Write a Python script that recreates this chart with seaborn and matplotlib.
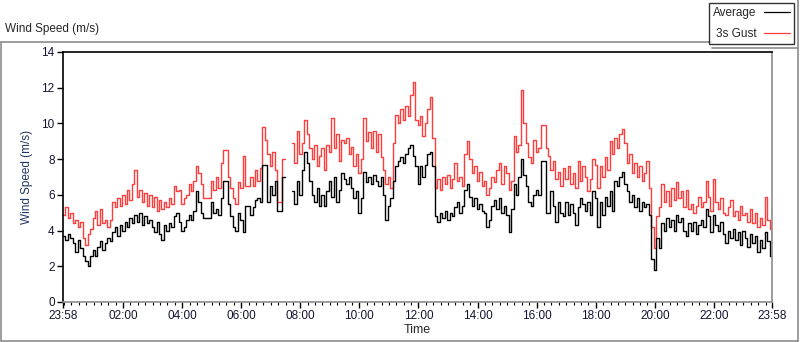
import numpy as np
import pandas as pd
import matplotlib
matplotlib.use("Agg")
from matplotlib import pyplot as plt
from matplotlib.lines import Line2D
import matplotlib.dates as mdates
import seaborn as sns

# 5-minute readings from 23:58 to 23:58 next day, one row per hour (m/s)
average = [
    3.7, 3.5, 3.8, 3.6, 3.3, 2.8, 3.5, 3.0, 2.6, 2.3, 2.0, 2.6,
    2.9, 2.6, 3.1, 3.4, 2.9, 3.3, 3.6, 3.4, 3.9, 4.2, 3.7, 4.3,
    4.0, 4.5, 4.2, 4.7, 4.4, 4.9, 4.5, 5.0, 4.3, 4.8, 4.4, 4.6,
    4.2, 3.9, 4.5, 3.8, 3.5, 4.3, 4.0, 4.4, 4.2, 4.8, 5.0, 4.5,
    4.0, 4.2, 4.6, 4.9, 4.6, 5.1, 6.2, 5.6, 5.0, 4.7, 4.7, 4.7,
    5.6, 5.0, 5.2, 4.9, 5.8, 6.8, 6.8, 5.5, 4.8, 4.2, 4.0, 5.0,
    4.6, 3.9, 5.4, 5.4, 4.9, 5.3, 5.7, 5.8, 5.6, 7.7, 7.7, 5.6,
    6.5, 6.0, 6.8, 5.1, 5.1, 7.0, 7.0, np.nan, np.nan, 6.2, 5.5, 6.8,
    6.0, 7.4, 8.4, 7.8, 6.8, 6.0, 5.6, 6.4, 5.4, 6.0, 5.4, 6.2,
    6.8, 5.9, 7.0, 5.6, 6.3, 7.2, 6.9, 6.6, 7.0, 6.4, 5.8, 6.2,
    5.0, 5.8, 7.3, 6.7, 7.0, 6.6, 7.1, 6.8, 6.5, 7.0, 6.0, 4.6,
    5.4, 5.8, 6.8, 7.6, 7.9, 8.1, 7.8, 8.3, 8.6, 8.8, 8.2, 7.6,
    6.6, 7.6, 7.0, 7.7, 8.3, 8.4, 7.6, 4.8, 4.5, 5.0, 4.7, 5.1,
    4.6, 5.0, 4.8, 5.3, 5.6, 5.0, 5.4, 6.3, 6.6, 5.9, 5.4, 5.8,
    5.2, 5.5, 5.1, 5.0, 4.2, 4.6, 5.4, 5.7, 5.2, 5.8, 5.0, 5.4,
    4.9, 3.9, 5.2, 6.6, 6.0, 7.0, 8.0, 7.1, 6.5, 5.6, 5.4, 6.0,
    6.3, 6.0, 7.9, 7.9, 5.0, 5.0, 6.2, 5.4, 4.5, 5.6, 5.0, 4.8,
    5.6, 4.9, 5.5, 5.0, 4.3, 5.3, 5.8, 5.5, 5.1, 5.6, 4.9, 6.2,
    5.8, 4.2, 5.6, 4.9, 5.9, 5.4, 6.2, 5.1, 6.8, 6.5, 7.0, 7.3,
    6.6, 6.2, 5.6, 6.0, 5.3, 5.8, 5.1, 5.6, 5.3, 5.5, 4.9, 2.4,
    1.8, 3.6, 3.0, 4.4, 4.0, 4.7, 4.2, 4.6, 4.0, 4.9, 4.5, 4.7,
    4.0, 3.7, 4.4, 4.0, 4.5, 3.8, 4.3, 4.6, 4.2, 5.2, 4.8, 3.9,
    4.9, 4.3, 4.0, 4.5, 3.8, 3.3, 4.0, 3.6, 4.1, 3.5, 3.9, 3.2,
    4.0, 3.6, 3.1, 3.8, 3.3, 3.7, 2.8, 3.5, 3.0, 3.9, 3.4, 2.6,
    4.2,
]

gust = [
    4.9, 5.3, 4.7, 5.0, 4.4, 4.6, 4.2, 4.5, 3.6, 3.2, 3.8, 4.1,
    4.7, 5.1, 4.3, 5.2, 4.4, 4.6, 4.2, 4.6, 5.6, 5.3, 5.8, 5.4,
    6.0, 5.5, 6.3, 5.7, 6.6, 7.4, 5.9, 6.3, 5.6, 6.1, 5.4, 6.0,
    5.3, 5.9, 5.1, 5.7, 5.2, 5.6, 5.3, 5.8, 5.5, 6.5, 6.2, 6.3,
    5.5, 5.8, 6.0, 6.6, 6.2, 6.8, 7.6, 7.2, 6.6, 5.8, 5.8, 5.8,
    6.8, 6.3, 7.0, 6.4, 7.8, 8.5, 8.5, 7.0, 6.4, 5.8, 5.5, 6.7,
    6.4, 8.2, 6.5, 6.5, 7.0, 6.5, 7.4, 6.8, 7.5, 9.8, 9.1, 8.3,
    7.6, 8.4, 7.4, 5.6, 5.6, 8.0, 8.0, np.nan, np.nan, 8.9, 7.8, 9.6,
    8.3, 8.9, 10.2, 9.4, 8.6, 8.0, 8.8, 7.6, 8.2, 8.6, 7.4, 8.8,
    8.4, 10.3, 8.6, 9.4, 7.9, 9.1, 8.9, 9.2, 8.3, 8.7, 7.6, 8.3,
    7.2, 8.0, 10.3, 9.0, 9.5, 8.6, 9.6, 8.4, 9.4, 8.1, 7.4, 6.6,
    7.0, 6.4, 8.9, 10.5, 10.0, 10.8, 10.2, 11.0, 10.4, 11.6, 12.3, 10.2,
    9.9, 10.4, 9.3, 10.0, 10.8, 11.5, 9.2, 6.4, 6.9, 6.3, 7.0, 6.6,
    7.1, 6.4, 6.9, 7.8, 6.8, 7.0, 6.5, 8.3, 9.0, 8.0, 7.2, 7.6,
    6.8, 7.3, 6.5, 6.8, 6.0, 6.4, 7.0, 6.7, 7.4, 7.8, 6.6, 7.6,
    7.2, 6.3, 6.8, 9.3, 8.4, 8.8, 11.9, 10.0, 8.9, 8.1, 7.8, 9.1,
    8.4, 8.6, 9.9, 9.9, 8.6, 8.2, 7.4, 7.9, 6.9, 7.3, 6.5, 7.5,
    6.9, 7.6, 6.6, 7.2, 6.4, 7.9, 6.8, 7.6, 7.0, 6.2, 6.9, 8.0,
    7.7, 6.4, 7.6, 7.0, 8.1, 7.4, 9.0, 8.3, 9.2, 8.6, 9.4, 9.7,
    8.9, 7.8, 8.3, 7.2, 7.8, 7.0, 7.6, 6.8, 7.2, 7.9, 6.4, 4.2,
    3.0, 4.8, 5.3, 6.6, 5.6, 6.2, 5.4, 6.4, 5.7, 6.7, 5.8, 6.2,
    5.3, 6.3, 5.2, 5.5, 5.0, 5.4, 5.9, 5.3, 5.6, 6.8, 5.9, 5.1,
    6.9, 5.6, 5.2, 5.8, 5.0, 4.9, 5.3, 5.7, 4.8, 5.1, 4.6, 5.4,
    4.9, 5.0, 4.5, 5.2, 4.4, 5.0, 4.2, 4.7, 4.3, 5.9, 4.6, 4.1,
    5.3,
]

times = pd.date_range("2014-03-01 23:58", periods=len(average), freq="5min")
tick_times = [times[0]] + list(pd.date_range("2014-03-02 02:00", periods=11, freq="2h")) + [times[-1]]

df = pd.DataFrame({"time": times, "Average": average, "3s Gust": gust})
# logger gap -> separate segments so the line breaks
df["segment"] = df["Average"].isna().cumsum()
df = df.dropna()

sns.set_style("white")
plt.rcParams["font.family"] = ["Liberation Sans", "DejaVu Sans"]
plt.rcParams["font.size"] = 8.5

fig = plt.figure(figsize=(8, 3.42), dpi=100)
ax = fig.add_axes([63 / 800, 1 - 302 / 342, 709 / 800, 250 / 342])

sns.lineplot(data=df, x="time", y="3s Gust", units="segment", estimator=None,
             color="#ff3c3c", lw=1.0, drawstyle="steps-post", ax=ax)
sns.lineplot(data=df, x="time", y="Average", units="segment", estimator=None,
             color="black", lw=1.0, drawstyle="steps-post", ax=ax)

ax.set_xlim(times[0], times[-1])
ax.set_ylim(0, 14)
ax.set_yticks(range(0, 15, 2))
ax.set_xticks(tick_times)
ax.xaxis.set_major_formatter(mdates.DateFormatter("%H:%M"))
ax.xaxis.set_minor_locator(mdates.MinuteLocator(byminute=[0, 15, 30, 45]))
ax.tick_params(axis="both", which="major", direction="out", length=4, width=1,
               colors="black", labelcolor="#141432", labelsize=8.5, pad=2)
ax.tick_params(axis="x", which="minor", direction="out", length=2.5, width=0.8,
               bottom=True, color="black")
ax.tick_params(axis="x", bottom=True)
ax.tick_params(axis="y", left=True)

for side in ["top", "left"]:
    ax.spines[side].set_color("black")
    ax.spines[side].set_linewidth(1.2)
for side in ["bottom", "right"]:
    ax.spines[side].set_color("#8c8c8c")
    ax.spines[side].set_linewidth(1.2)

ax.set_xlabel("Time", fontsize=9, labelpad=1)
ax.set_ylabel("Wind Speed (m/s)", fontsize=8.5, color="#1e3560", labelpad=6)

# outer panel frame and title
frame_kw = dict(color="#8c8c8c", lw=1.2, transform=fig.transFigure)
fig.add_artist(Line2D([0.001, 0.89], [1 - 42 / 342] * 2, **frame_kw))
fig.add_artist(Line2D([0.001, 0.001], [0.004, 1 - 42 / 342], **frame_kw))
fig.add_artist(Line2D([0.001, 0.997], [0.004, 0.004], **frame_kw))
fig.add_artist(Line2D([0.997, 0.997], [0.004, 1.0], **frame_kw))
fig.add_artist(Line2D([0.89, 0.997], [1 - 48 / 342] * 2, **frame_kw))
fig.text(5 / 800, 1 - 32 / 342, "Wind Speed (m/s)", fontsize=8.5, va="baseline")

handles = [Line2D([], [], color="black", lw=0.9), Line2D([], [], color="#ff3c3c", lw=0.9)]
fig.legend(handles, ["Average", "3s Gust"], loc="upper right",
           bbox_to_anchor=(0.996, 1.0), markerfirst=False, frameon=True,
           fancybox=False, edgecolor="black", fontsize=8.5, handlelength=2.2,
           borderpad=0.35, labelspacing=0.75, handletextpad=0.6, borderaxespad=0.25)

fig.savefig("out.png", dpi=100)
